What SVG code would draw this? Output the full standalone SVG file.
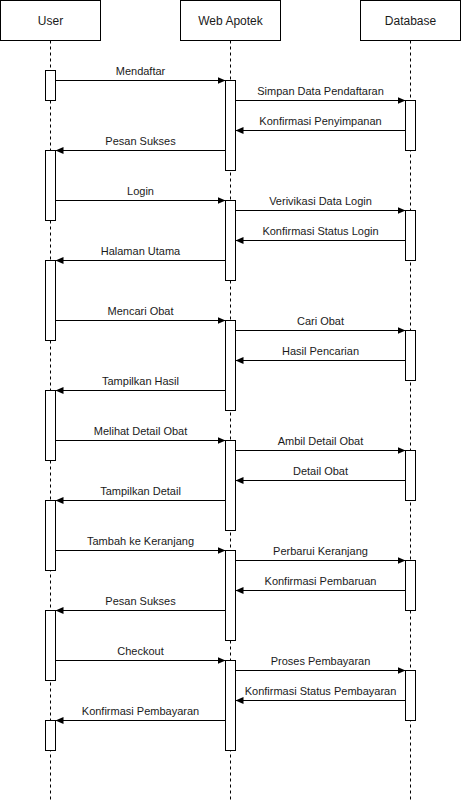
<svg xmlns="http://www.w3.org/2000/svg" width="461" height="801" viewBox="0 0 461 801">
<style>
.hdr{fill:#fff;stroke:#000;stroke-width:1}
.life{stroke:#000;stroke-width:1;stroke-dasharray:3 3;fill:none}
.act{fill:#fff;stroke:#000;stroke-width:1}
.msg{stroke:#000;stroke-width:1;fill:none;marker-end:url(#arr)}
.ht{font-family:Helvetica,"Liberation Sans",Arial,sans-serif;font-size:12px;fill:#1a1a1a;text-anchor:middle}
.lt{font-family:Helvetica,"Liberation Sans",Arial,sans-serif;font-size:11px;fill:#1a1a1a;text-anchor:middle}
</style>
<defs>
<marker id="arr" markerUnits="userSpaceOnUse" markerWidth="9" markerHeight="8" refX="8" refY="3.5" orient="auto">
<path d="M0,0 L8,3.5 L0,7 Z" fill="#000"/>
</marker>
</defs>
<rect width="461" height="801" fill="#fff"/>
<g id="user">
<line class="life" x1="50.5" y1="40.5" x2="50.5" y2="800"/>
<rect class="hdr" x="0.5" y="0.5" width="100" height="40"/>
<text class="ht" x="50.5" y="24.5">User</text>
<rect class="act" x="45.5" y="70.5" width="10" height="30"/>
<rect class="act" x="45.5" y="150.5" width="10" height="70"/>
<rect class="act" x="45.5" y="260.5" width="10" height="80"/>
<rect class="act" x="45.5" y="390.5" width="10" height="70"/>
<rect class="act" x="45.5" y="500.5" width="10" height="70"/>
<rect class="act" x="45.5" y="610.5" width="10" height="70"/>
<rect class="act" x="45.5" y="720.5" width="10" height="30"/>
</g>
<g id="web">
<line class="life" x1="230.5" y1="40.5" x2="230.5" y2="800"/>
<rect class="hdr" x="180.5" y="0.5" width="100" height="40"/>
<text class="ht" x="230.5" y="24.5">Web Apotek</text>
<rect class="act" x="225.5" y="80.5" width="10" height="90"/>
<rect class="act" x="225.5" y="200.5" width="10" height="80"/>
<rect class="act" x="225.5" y="320.5" width="10" height="90"/>
<rect class="act" x="225.5" y="440.5" width="10" height="90"/>
<rect class="act" x="225.5" y="550.5" width="10" height="90"/>
<rect class="act" x="225.5" y="660.5" width="10" height="90"/>
</g>
<g id="db">
<line class="life" x1="410.5" y1="40.5" x2="410.5" y2="800"/>
<rect class="hdr" x="360.5" y="0.5" width="100" height="40"/>
<text class="ht" x="410.5" y="24.5">Database</text>
<rect class="act" x="405.5" y="100.5" width="10" height="50"/>
<rect class="act" x="405.5" y="210.5" width="10" height="50"/>
<rect class="act" x="405.5" y="330.5" width="10" height="50"/>
<rect class="act" x="405.5" y="450.5" width="10" height="50"/>
<rect class="act" x="405.5" y="560.5" width="10" height="50"/>
<rect class="act" x="405.5" y="670.5" width="10" height="50"/>
</g>
<g id="connectors">
<line class="msg" x1="55.5" y1="80.5" x2="225.5" y2="80.5"/>
<text class="lt" x="140.5" y="74.5">Mendaftar</text>
<line class="msg" x1="235.5" y1="100.5" x2="405.5" y2="100.5"/>
<text class="lt" x="320.5" y="94.5">Simpan Data Pendaftaran</text>
<line class="msg" x1="405.5" y1="130.5" x2="235.5" y2="130.5"/>
<text class="lt" x="320.5" y="124.5">Konfirmasi Penyimpanan</text>
<line class="msg" x1="225.5" y1="150.5" x2="55.5" y2="150.5"/>
<text class="lt" x="140.5" y="144.5">Pesan Sukses</text>

<line class="msg" x1="55.5" y1="200.5" x2="225.5" y2="200.5"/>
<text class="lt" x="140.5" y="194.5">Login</text>
<line class="msg" x1="235.5" y1="210.5" x2="405.5" y2="210.5"/>
<text class="lt" x="320.5" y="204.5">Verivikasi Data Login</text>
<line class="msg" x1="405.5" y1="240.5" x2="235.5" y2="240.5"/>
<text class="lt" x="320.5" y="234.5">Konfirmasi Status Login</text>
<line class="msg" x1="225.5" y1="260.5" x2="55.5" y2="260.5"/>
<text class="lt" x="140.5" y="254.5">Halaman Utama</text>

<line class="msg" x1="55.5" y1="320.5" x2="225.5" y2="320.5"/>
<text class="lt" x="140.5" y="314.5">Mencari Obat</text>
<line class="msg" x1="235.5" y1="330.5" x2="405.5" y2="330.5"/>
<text class="lt" x="320.5" y="324.5">Cari Obat</text>
<line class="msg" x1="405.5" y1="360.5" x2="235.5" y2="360.5"/>
<text class="lt" x="320.5" y="354.5">Hasil Pencarian</text>
<line class="msg" x1="225.5" y1="390.5" x2="55.5" y2="390.5"/>
<text class="lt" x="140.5" y="384.5">Tampilkan Hasil</text>

<line class="msg" x1="55.5" y1="440.5" x2="225.5" y2="440.5"/>
<text class="lt" x="140.5" y="434.5">Melihat Detail Obat</text>
<line class="msg" x1="235.5" y1="450.5" x2="405.5" y2="450.5"/>
<text class="lt" x="320.5" y="444.5">Ambil Detail Obat</text>
<line class="msg" x1="405.5" y1="480.5" x2="235.5" y2="480.5"/>
<text class="lt" x="320.5" y="474.5">Detail Obat</text>
<line class="msg" x1="225.5" y1="500.5" x2="55.5" y2="500.5"/>
<text class="lt" x="140.5" y="494.5">Tampilkan Detail</text>

<line class="msg" x1="55.5" y1="550.5" x2="225.5" y2="550.5"/>
<text class="lt" x="140.5" y="544.5">Tambah ke Keranjang</text>
<line class="msg" x1="235.5" y1="560.5" x2="405.5" y2="560.5"/>
<text class="lt" x="320.5" y="554.5">Perbarui Keranjang</text>
<line class="msg" x1="405.5" y1="590.5" x2="235.5" y2="590.5"/>
<text class="lt" x="320.5" y="584.5">Konfirmasi Pembaruan</text>
<line class="msg" x1="225.5" y1="610.5" x2="55.5" y2="610.5"/>
<text class="lt" x="140.5" y="604.5">Pesan Sukses</text>

<line class="msg" x1="55.5" y1="660.5" x2="225.5" y2="660.5"/>
<text class="lt" x="140.5" y="654.5">Checkout</text>
<line class="msg" x1="235.5" y1="670.5" x2="405.5" y2="670.5"/>
<text class="lt" x="320.5" y="664.5">Proses Pembayaran</text>
<line class="msg" x1="405.5" y1="700.5" x2="235.5" y2="700.5"/>
<text class="lt" x="320.5" y="694.5">Konfirmasi Status Pembayaran</text>
<line class="msg" x1="225.5" y1="720.5" x2="55.5" y2="720.5"/>
<text class="lt" x="140.5" y="714.5">Konfirmasi Pembayaran</text>
</g>
</svg>
